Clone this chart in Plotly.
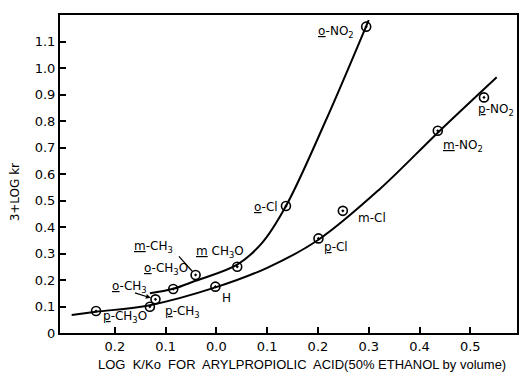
import plotly.graph_objects as go

# Data points: log K/Ko (x) and 3+log kr (y)
names = ["p-CH3O", "p-CH3", "o-CH3", "o-CH3O", "m-CH3", "H", "m-CH3O",
         "o-Cl", "p-Cl", "m-Cl", "o-NO2", "m-NO2", "p-NO2"]
x_vals = [-0.237, -0.131, -0.120, -0.085, -0.041, -0.002, 0.041,
          0.137, 0.201, 0.249, 0.295, 0.436, 0.527]
y_vals = [0.083, 0.099, 0.127, 0.166, 0.219, 0.175, 0.250,
          0.479, 0.357, 0.461, 1.156, 0.763, 0.889]

# Hand-drawn curves
upper_x = [-0.131, -0.085, -0.041, 0.041, 0.090, 0.137, 0.215, 0.300]
upper_y = [0.150, 0.167, 0.197, 0.258, 0.340, 0.479, 0.800, 1.181]
lower_x = [-0.285, -0.237, -0.131, -0.002, 0.100, 0.201, 0.320, 0.436, 0.552]
lower_y = [0.068, 0.080, 0.105, 0.172, 0.246, 0.352, 0.540, 0.756, 0.965]

# Labels
label_text = ["<u>o</u>-NO<sub>2</sub>", "<u>p</u>-NO<sub>2</sub>", "<u>m</u>-NO<sub>2</sub>",
              "m-Cl", "<u>p</u>-Cl", "<u>o</u>-Cl", "H", "<u>m</u> CH<sub>3</sub>O",
              "<u>m</u>-CH<sub>3</sub>", "<u>o</u>-CH<sub>3</sub>O", "<u>o</u>-CH<sub>3</sub>",
              "<u>p</u>-CH<sub>3</sub>", "<u>p</u>-CH<sub>3</sub>O"]
label_x = [0.235, 0.551, 0.486, 0.306, 0.235, 0.098, 0.020, 0.008,
           -0.124, -0.100, -0.171, -0.067, -0.180]
label_y = [1.136, 0.842, 0.706, 0.434, 0.325, 0.475, 0.132, 0.306,
           0.325, 0.242, 0.174, 0.079, 0.060]

x_tickvals = [-0.2, -0.1, 0.0, 0.1, 0.2, 0.3, 0.4, 0.5]
x_ticktext = ["0.2", "0.1", "0.0", "0.1", "0.2", "0.3", "0.4", "0.5"]
y_tickvals = [0, 0.1, 0.2, 0.3, 0.4, 0.5, 0.6, 0.7, 0.8, 0.9, 1.0, 1.1]
y_ticktext = ["0", "0.1", "0.2", "0.3", "0.4", "0.5", "0.6", "0.7", "0.8", "0.9", "1.0", "1.1"]

FONT = "DejaVu Sans"

fig = go.Figure()
fig.add_trace(go.Scatter(x=upper_x, y=upper_y, mode="lines",
                         line=dict(color="black", width=2, shape="spline", smoothing=1.0),
                         hoverinfo="skip", showlegend=False))
fig.add_trace(go.Scatter(x=lower_x, y=lower_y, mode="lines",
                         line=dict(color="black", width=2, shape="spline", smoothing=1.0),
                         hoverinfo="skip", showlegend=False))
fig.add_trace(go.Scatter(x=x_vals, y=y_vals, mode="markers", text=names,
                         marker=dict(symbol="circle-open-dot", size=9, color="black",
                                     line=dict(color="black", width=1.6)),
                         showlegend=False))

for t, lx, ly in zip(label_text, label_x, label_y):
    fig.add_annotation(x=lx, y=ly, text=t, showarrow=False,
                       font=dict(family=FONT, size=12, color="black"),
                       xanchor="center", yanchor="middle")

# leader lines from labels to points
leaders = [("m-CH3", -18, -20, 0), ("o-CH3", -22, -7, 2), ("p-CH3", 6, 4, 0)]
for nm, ax, ay, head in leaders:
    i = names.index(nm)
    fig.add_annotation(x=x_vals[i], y=y_vals[i], text="", showarrow=True,
                       ax=ax, ay=ay, axref="pixel", ayref="pixel",
                       arrowhead=head, arrowsize=0.8, arrowwidth=1.2,
                       arrowcolor="black", standoff=5)

fig.add_annotation(xref="paper", yref="paper", x=-0.098, y=0.443,
                   text="3+LOG kr", textangle=-90, showarrow=False,
                   font=dict(family=FONT, size=12, color="black"),
                   xanchor="center", yanchor="middle")
fig.add_annotation(xref="paper", yref="paper", x=0.529, y=-0.10,
                   text="LOG  K/Ko  FOR  ARYLPROPIOLIC  ACID(50% ETHANOL by volume)",
                   showarrow=False,
                   font=dict(family="Liberation Sans", size=13, color="black"),
                   xanchor="center", yanchor="middle")

fig.update_xaxes(range=[-0.308, 0.592], tickvals=x_tickvals, ticktext=x_ticktext,
                 ticks="inside", ticklen=6, tickwidth=1.5, tickcolor="black",
                 showline=True, linecolor="black", linewidth=2, mirror=True,
                 showgrid=False, zeroline=False,
                 tickfont=dict(family="DejaVu Sans", size=13, color="black"))
fig.update_yaxes(range=[0, 1.2], tickvals=y_tickvals, ticktext=y_ticktext,
                 ticks="inside", ticklen=6, tickwidth=1.5, tickcolor="black",
                 showline=True, linecolor="black", linewidth=2, mirror=True,
                 showgrid=False, zeroline=False,
                 tickfont=dict(family="DejaVu Sans", size=13, color="black"))

fig.update_layout(width=522, height=381, margin=dict(l=60, r=3, t=15, b=48),
                  paper_bgcolor="white", plot_bgcolor="white")

fig.write_html("out.html")
